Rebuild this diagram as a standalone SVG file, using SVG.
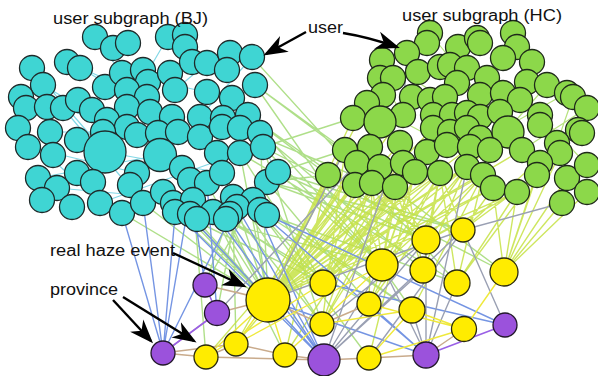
<svg xmlns="http://www.w3.org/2000/svg" width="598" height="376" viewBox="0 0 598 376">
<style>
.bj circle{fill:#3fd5d3;stroke:#1f2a2a;stroke-width:1.3}
.hc circle{fill:#8cd84a;stroke:#1f2a1a;stroke-width:1.3}
.ev circle{fill:#ffec00;stroke:#2a2a10;stroke-width:1.3}
.pr circle{fill:#9b52dc;stroke:#22182a;stroke-width:1.3}
.e{fill:none;stroke-width:1.4}
.yg{stroke:#c6e244;opacity:.85}
.lg{stroke:#a6dc7c;opacity:.9}
.bl{stroke:#7595e3}
.gr{stroke:#9aa0b3}
.tn{stroke:#c9ab8c;stroke-width:1.5}
.pu{stroke:#9a60e6;stroke-width:1.6}
.yl{stroke:#efe93c;stroke-width:1.4}
.cy{stroke:#84d8e6;stroke-width:1.2}
.hg{stroke:#b7e27f;stroke-width:1.2}
.arr{fill:none;stroke:#000;stroke-width:2.4}
text{font-family:"Liberation Sans",Arial,Helvetica,sans-serif;font-size:16px;fill:#111}
</style>
<defs>
<marker id="ah" markerUnits="userSpaceOnUse" markerWidth="26" markerHeight="20" refX="21" refY="9" orient="auto" viewBox="0 0 26 18">
<path d="M0,0 L24,9 L0,18 L7,9 z" fill="#000"/>
</marker>
</defs>
<rect width="598" height="376" fill="#fff"/>
<g id="connectors">
<path class="e cy" d="M32,68L105,152 M43,85L160,155 M67,62L147,97 M122,73L232,98 M80,68L200,137 M21,97L127,127 M50,132L178,132 M28,147L137,173 M57,188L193,200 M38,178L160,155 M105,152L222,173 M100,203L240,153 M168,37L127,107 M207,63L175,90 M252,57L200,117 M255,85L160,155 M232,98L278,172 M95,37L150,112 M63,108L143,203 M18,128L100,203"/>
<path class="e hg" d="M382,60L467,113 M407,53L433,128 M430,33L508,132 M513,33L467,128 M532,62L480,138 M547,85L490,150 M367,103L447,145 M353,118L400,143 M587,108L522,150 M573,97L557,143 M380,78L403,115 M540,115L587,165 M433,115L540,163 M458,47L380,122 M503,58L427,152 M567,93L470,147"/>
<path class="e lg" d="M252,57L457,283 M255,85L412,310 M260,133L423,270 M263,147L382,265 M278,172L426,240 M267,182L369,304 M267,215L412,310 M260,212L323,283 M253,200L268,300 M237,207L268,300 M228,218L268,300 M213,212L268,300 M195,218L268,300 M187,213L268,300 M173,210L268,300 M163,192L268,300 M240,153L457,283 M232,98L382,265 M222,173L322,324 M207,183L268,300 M233,212L236,344 M195,218L206,357 M278,172L463,230 M263,147L504,272 M267,182L426,240 M240,153L323,283 M278,172L345,150 M263,147L353,118 M267,182L328,175 M173,210L323,283 M187,213L382,265 M143,203L268,300 M122,213L268,300 M248,115L426,240 M255,85L345,150 M228,218L323,283 M213,212L369,304 M260,212L457,283 M255,85L504,272 M248,115L328,175 M240,128L372,183 M253,200L205,285 M237,207L217,313 M213,212L285,355 M260,212L369,358 M253,200L412,310 M233,212L322,324 M228,218L205,285 M278,172L382,265 M267,182L463,230 M240,153L268,300 M260,133L268,300 M263,147L322,324"/>
<path class="e yg" d="M328,175L268,300 M345,150L268,300 M355,185L268,300 M372,183L268,300 M380,167L268,300 M395,187L268,300 M403,163L268,300 M415,172L268,300 M440,173L268,300 M427,152L268,300 M467,167L268,300 M447,145L268,300 M483,175L268,300 M493,188L268,300 M370,147L268,300 M400,143L268,300 M357,163L268,300 M517,192L268,300 M470,147L268,300 M380,122L268,300 M433,128L268,300 M490,150L268,300 M353,118L268,300 M367,103L268,300 M403,115L268,300 M522,150L268,300 M372,183L323,283 M395,187L323,283 M415,172L323,283 M440,173L323,283 M467,167L323,283 M493,188L323,283 M403,163L323,283 M355,185L323,283 M427,152L323,283 M355,185L382,265 M415,172L382,265 M440,173L382,265 M372,183L382,265 M467,167L382,265 M395,187L382,265 M483,175L382,265 M403,163L382,265 M395,187L426,240 M372,183L426,240 M440,173L426,240 M483,175L426,240 M517,192L426,240 M357,163L426,240 M403,163L423,270 M440,173L423,270 M395,187L423,270 M467,167L423,270 M517,192L504,272 M537,175L504,272 M562,203L504,272 M493,188L504,272 M567,178L504,272 M587,192L504,272 M540,163L504,272 M415,172L369,304 M440,173L369,304 M372,183L369,304 M483,175L457,283 M517,192L457,283 M440,173L457,283 M537,175L457,283 M372,183L322,324 M395,187L322,324 M345,150L322,324 M372,183L236,344 M345,150L236,344 M415,172L369,358 M493,188L463,230 M537,175L463,230 M440,173L463,230 M328,175L285,355 M355,185L206,357 M395,187L285,355 M415,172L322,324 M467,167L369,304 M483,175L412,310 M380,167L323,283 M517,192L382,265 M560,153L504,272 M557,143L463,230"/>
<path class="e bl" d="M175,215L163,353 M187,213L163,353 M195,218L205,285 M213,212L324,360 M228,218L324,360 M237,207L324,360 M253,200L324,360 M260,212L426,355 M267,215L505,325 M207,183L217,313 M233,212L163,353 M323,283L505,325 M369,304L426,355 M268,300L426,355 M143,203L163,353 M187,213L324,360 M173,210L324,360 M122,213L160,342"/>
<path class="e gr" d="M463,230L324,360 M463,230L505,325 M463,230L268,300 M426,240L426,355 M426,240L324,360 M382,265L324,360 M423,270L324,360 M457,283L426,355 M463,230L562,203 M322,324L426,240 M369,358L463,230 M400,143L324,360 M345,150L268,300 M467,167L426,355 M412,310L426,355 M382,265L426,355 M357,163L217,313 M407,53L403,115"/>
<path class="e tn" d="M163,353L206,357 M163,353L217,313 M206,357L236,344 M217,313L268,300 M205,285L268,300 M206,357L324,360 M324,360L369,358 M369,358L426,355 M426,355L464,329 M285,355L324,360 M236,344L285,355 M322,324L369,304 M322,324L268,300 M163,353L236,344"/>
<path class="e yl" d="M236,344L268,300 M206,357L268,300 M285,355L268,300 M369,358L464,329 M369,304L464,329 M322,324L412,310 M412,310L464,329 M464,329L504,272 M206,357L323,283 M285,355L382,265 M369,358L412,310 M236,344L382,265"/>
<path class="e pu" d="M426,355L505,325 M217,313L163,353 M205,285L217,313"/>
</g>
<g class="bj">
<g id="b1"><circle cx="95" cy="37" r="12.5"/></g>
<g id="b2"><circle cx="113" cy="48" r="12.5"/></g>
<g id="b3"><circle cx="128" cy="43" r="12.5"/></g>
<g id="b4"><circle cx="168" cy="37" r="12.5"/></g>
<g id="b5"><circle cx="185" cy="35" r="12.5"/></g>
<g id="b6"><circle cx="185" cy="47" r="12.5"/></g>
<g id="b7"><circle cx="67" cy="62" r="12.5"/></g>
<g id="b8"><circle cx="80" cy="68" r="12.5"/></g>
<g id="b9"><circle cx="32" cy="68" r="12.5"/></g>
<g id="b10"><circle cx="43" cy="85" r="12.5"/></g>
<g id="b11"><circle cx="21" cy="97" r="12.5"/></g>
<g id="b12"><circle cx="26" cy="108" r="12.5"/></g>
<g id="b13"><circle cx="47" cy="107" r="12.5"/></g>
<g id="b14"><circle cx="63" cy="108" r="12.5"/></g>
<g id="b15"><circle cx="78" cy="100" r="12.5"/></g>
<g id="b16"><circle cx="92" cy="110" r="12.5"/></g>
<g id="b17"><circle cx="105" cy="87" r="12.5"/></g>
<g id="b18"><circle cx="122" cy="73" r="12.5"/></g>
<g id="b19"><circle cx="143" cy="70" r="12.5"/></g>
<g id="b20"><circle cx="148" cy="82" r="12.5"/></g>
<g id="b21"><circle cx="170" cy="73" r="12.5"/></g>
<g id="b22"><circle cx="192" cy="62" r="12.5"/></g>
<g id="b23"><circle cx="207" cy="63" r="12.5"/></g>
<g id="b24"><circle cx="230" cy="53" r="12.5"/></g>
<g id="b25"><circle cx="252" cy="57" r="12.5"/></g>
<g id="b26"><circle cx="227" cy="70" r="12.5"/></g>
<g id="b27"><circle cx="255" cy="85" r="12.5"/></g>
<g id="b28"><circle cx="207" cy="92" r="12.5"/></g>
<g id="b29"><circle cx="232" cy="98" r="12.5"/></g>
<g id="b30"><circle cx="175" cy="90" r="12.5"/></g>
<g id="b31"><circle cx="127" cy="90" r="12.5"/></g>
<g id="b32"><circle cx="147" cy="97" r="12.5"/></g>
<g id="b33"><circle cx="127" cy="107" r="12.5"/></g>
<g id="b34"><circle cx="150" cy="112" r="12.5"/></g>
<g id="b35"><circle cx="172" cy="117" r="12.5"/></g>
<g id="b36"><circle cx="200" cy="117" r="12.5"/></g>
<g id="b37"><circle cx="223" cy="118" r="12.5"/></g>
<g id="b38"><circle cx="248" cy="115" r="12.5"/></g>
<g id="b39"><circle cx="107" cy="120" r="12.5"/></g>
<g id="b40"><circle cx="127" cy="127" r="12.5"/></g>
<g id="b41"><circle cx="18" cy="128" r="12.5"/></g>
<g id="b42"><circle cx="50" cy="132" r="12.5"/></g>
<g id="b43"><circle cx="77" cy="140" r="12.5"/></g>
<g id="b44"><circle cx="103" cy="132" r="12.5"/></g>
<g id="b47"><circle cx="28" cy="147" r="12.5"/></g>
<g id="b48"><circle cx="53" cy="155" r="12.5"/></g>
<g id="b49"><circle cx="137" cy="135" r="12.5"/></g>
<g id="b50"><circle cx="158" cy="133" r="12.5"/></g>
<g id="b51"><circle cx="178" cy="132" r="12.5"/></g>
<g id="b52"><circle cx="200" cy="137" r="12.5"/></g>
<g id="b53"><circle cx="222" cy="127" r="12.5"/></g>
<g id="b54"><circle cx="240" cy="128" r="12.5"/></g>
<g id="b55"><circle cx="260" cy="133" r="12.5"/></g>
<g id="b45"><circle cx="105" cy="152" r="21"/></g>
<g id="b46"><circle cx="160" cy="155" r="16.5"/></g>
<g id="b56"><circle cx="217" cy="153" r="12.5"/></g>
<g id="b57"><circle cx="240" cy="153" r="12.5"/></g>
<g id="b58"><circle cx="263" cy="147" r="12.5"/></g>
<g id="b59"><circle cx="38" cy="178" r="12.5"/></g>
<g id="b60"><circle cx="57" cy="188" r="12.5"/></g>
<g id="b61"><circle cx="77" cy="173" r="12.5"/></g>
<g id="b62"><circle cx="93" cy="182" r="12.5"/></g>
<g id="b63"><circle cx="42" cy="200" r="12.5"/></g>
<g id="b64"><circle cx="72" cy="207" r="12.5"/></g>
<g id="b65"><circle cx="100" cy="203" r="12.5"/></g>
<g id="b66"><circle cx="122" cy="213" r="12.5"/></g>
<g id="b67"><circle cx="137" cy="173" r="12.5"/></g>
<g id="b68"><circle cx="130" cy="185" r="12.5"/></g>
<g id="b69"><circle cx="143" cy="203" r="12.5"/></g>
<g id="b70"><circle cx="163" cy="192" r="12.5"/></g>
<g id="b71"><circle cx="182" cy="168" r="12.5"/></g>
<g id="b72"><circle cx="190" cy="180" r="12.5"/></g>
<g id="b75"><circle cx="207" cy="183" r="12.5"/></g>
<g id="b76"><circle cx="222" cy="173" r="12.5"/></g>
<g id="b80"><circle cx="267" cy="182" r="12.5"/></g>
<g id="b81"><circle cx="278" cy="172" r="12.5"/></g>
<g id="b73"><circle cx="173" cy="203" r="12.5"/></g>
<g id="b74"><circle cx="193" cy="200" r="12.5"/></g>
<g id="b77"><circle cx="233" cy="197" r="12.5"/></g>
<g id="b79"><circle cx="253" cy="200" r="12.5"/></g>
<g id="b85"><circle cx="175" cy="212" r="12.5"/></g>
<g id="b83"><circle cx="190" cy="214" r="12.5"/></g>
<g id="b78"><circle cx="213" cy="212" r="12.5"/></g>
<g id="b86"><circle cx="197" cy="219" r="12.5"/></g>
<g id="b88"><circle cx="237" cy="207" r="12.5"/></g>
<g id="b84"><circle cx="230" cy="214" r="12.5"/></g>
<g id="b87"><circle cx="226" cy="219" r="12.5"/></g>
<g id="b82"><circle cx="260" cy="210" r="12.5"/></g>
<g id="b89"><circle cx="267" cy="215" r="12.5"/></g>
</g>
<g class="hc">
<g id="h1"><circle cx="430" cy="33" r="12.5"/></g>
<g id="h2"><circle cx="427" cy="43" r="12.5"/></g>
<g id="h3"><circle cx="458" cy="47" r="12.5"/></g>
<g id="h4"><circle cx="477" cy="38" r="12.5"/></g>
<g id="h5"><circle cx="480" cy="43" r="12.5"/></g>
<g id="h6"><circle cx="513" cy="33" r="12.5"/></g>
<g id="h7"><circle cx="517" cy="47" r="12.5"/></g>
<g id="h8"><circle cx="503" cy="58" r="12.5"/></g>
<g id="h9"><circle cx="532" cy="62" r="12.5"/></g>
<g id="h10"><circle cx="407" cy="53" r="12.5"/></g>
<g id="h11"><circle cx="382" cy="60" r="12.5"/></g>
<g id="h12"><circle cx="380" cy="78" r="12.5"/></g>
<g id="h13"><circle cx="393" cy="78" r="12.5"/></g>
<g id="h14"><circle cx="418" cy="72" r="12.5"/></g>
<g id="h15"><circle cx="440" cy="67" r="12.5"/></g>
<g id="h16"><circle cx="450" cy="65" r="12.5"/></g>
<g id="h17"><circle cx="467" cy="68" r="12.5"/></g>
<g id="h18"><circle cx="487" cy="78" r="12.5"/></g>
<g id="h19"><circle cx="457" cy="83" r="12.5"/></g>
<g id="h20"><circle cx="383" cy="95" r="12.5"/></g>
<g id="h21"><circle cx="412" cy="97" r="12.5"/></g>
<g id="h22"><circle cx="430" cy="100" r="12.5"/></g>
<g id="h23"><circle cx="445" cy="97" r="12.5"/></g>
<g id="h24"><circle cx="480" cy="95" r="12.5"/></g>
<g id="h25"><circle cx="503" cy="93" r="12.5"/></g>
<g id="h26"><circle cx="527" cy="82" r="12.5"/></g>
<g id="h27"><circle cx="547" cy="85" r="12.5"/></g>
<g id="h28"><circle cx="567" cy="93" r="12.5"/></g>
<g id="h29"><circle cx="573" cy="97" r="12.5"/></g>
<g id="h30"><circle cx="587" cy="108" r="12.5"/></g>
<g id="h31"><circle cx="520" cy="100" r="12.5"/></g>
<g id="h32"><circle cx="367" cy="103" r="12.5"/></g>
<g id="h33"><circle cx="353" cy="118" r="12.5"/></g>
<g id="h35"><circle cx="403" cy="115" r="12.5"/></g>
<g id="h36"><circle cx="433" cy="115" r="12.5"/></g>
<g id="h37"><circle cx="452" cy="115" r="12.5"/></g>
<g id="h38"><circle cx="467" cy="113" r="12.5"/></g>
<g id="h39"><circle cx="480" cy="117" r="12.5"/></g>
<g id="h40"><circle cx="500" cy="112" r="12.5"/></g>
<g id="h41"><circle cx="540" cy="115" r="12.5"/></g>
<g id="h42"><circle cx="540" cy="125" r="12.5"/></g>
<g id="h34"><circle cx="380" cy="122" r="16"/></g>
<g id="h44"><circle cx="433" cy="128" r="12.5"/></g>
<g id="h45"><circle cx="450" cy="132" r="12.5"/></g>
<g id="h46"><circle cx="467" cy="128" r="12.5"/></g>
<g id="h47"><circle cx="480" cy="138" r="12.5"/></g>
<g id="h43"><circle cx="508" cy="132" r="16"/></g>
<g id="h48"><circle cx="578" cy="130" r="12.5"/></g>
<g id="h49"><circle cx="582" cy="133" r="12.5"/></g>
<g id="h50"><circle cx="345" cy="150" r="12.5"/></g>
<g id="h51"><circle cx="370" cy="147" r="12.5"/></g>
<g id="h52"><circle cx="400" cy="143" r="12.5"/></g>
<g id="h53"><circle cx="427" cy="152" r="12.5"/></g>
<g id="h54"><circle cx="447" cy="145" r="12.5"/></g>
<g id="h55"><circle cx="470" cy="147" r="12.5"/></g>
<g id="h56"><circle cx="490" cy="150" r="12.5"/></g>
<g id="h57"><circle cx="522" cy="150" r="12.5"/></g>
<g id="h58"><circle cx="557" cy="143" r="12.5"/></g>
<g id="h59"><circle cx="560" cy="153" r="12.5"/></g>
<g id="h62"><circle cx="357" cy="163" r="12.5"/></g>
<g id="h60"><circle cx="380" cy="167" r="12.5"/></g>
<g id="h61"><circle cx="403" cy="163" r="12.5"/></g>
<g id="h63"><circle cx="328" cy="175" r="12.5"/></g>
<g id="h64"><circle cx="355" cy="185" r="12.5"/></g>
<g id="h65"><circle cx="372" cy="183" r="12.5"/></g>
<g id="h66"><circle cx="395" cy="187" r="12.5"/></g>
<g id="h67"><circle cx="415" cy="172" r="12.5"/></g>
<g id="h68"><circle cx="440" cy="173" r="12.5"/></g>
<g id="h69"><circle cx="467" cy="167" r="12.5"/></g>
<g id="h70"><circle cx="483" cy="175" r="12.5"/></g>
<g id="h71"><circle cx="493" cy="188" r="12.5"/></g>
<g id="h72"><circle cx="517" cy="192" r="12.5"/></g>
<g id="h74"><circle cx="540" cy="163" r="12.5"/></g>
<g id="h73"><circle cx="537" cy="175" r="12.5"/></g>
<g id="h75"><circle cx="567" cy="178" r="12.5"/></g>
<g id="h76"><circle cx="587" cy="165" r="12.5"/></g>
<g id="h77"><circle cx="587" cy="192" r="12.5"/></g>
<g id="h78"><circle cx="562" cy="203" r="12.5"/></g>
</g>
<g class="ev">
<g id="y0"><circle cx="268" cy="300" r="22"/></g>
<g id="y1"><circle cx="426" cy="240" r="14"/></g>
<g id="y2"><circle cx="463" cy="230" r="12"/></g>
<g id="y3"><circle cx="382" cy="265" r="16"/></g>
<g id="y4"><circle cx="423" cy="270" r="13"/></g>
<g id="y5"><circle cx="323" cy="283" r="13"/></g>
<g id="y6"><circle cx="457" cy="283" r="13"/></g>
<g id="y7"><circle cx="504" cy="272" r="14"/></g>
<g id="y8"><circle cx="369" cy="304" r="12"/></g>
<g id="y9"><circle cx="412" cy="310" r="13"/></g>
<g id="y10"><circle cx="322" cy="324" r="12"/></g>
<g id="y11"><circle cx="464" cy="329" r="12.5"/></g>
<g id="y12"><circle cx="369" cy="358" r="12"/></g>
<g id="y13"><circle cx="206" cy="357" r="12"/></g>
<g id="y14"><circle cx="236" cy="344" r="12"/></g>
<g id="y15"><circle cx="285" cy="355" r="12"/></g>
</g>
<g class="pr">
<g id="p1"><circle cx="205" cy="285" r="12"/></g>
<g id="p2"><circle cx="217" cy="313" r="12.5"/></g>
<g id="p3"><circle cx="163" cy="353" r="12"/></g>
<g id="p4"><circle cx="324" cy="360" r="16"/></g>
<g id="p5"><circle cx="426" cy="355" r="13"/></g>
<g id="p6"><circle cx="505" cy="325" r="12"/></g>
</g>
<g id="labels">
<text x="53" y="24" textLength="155" lengthAdjust="spacingAndGlyphs">user subgraph (BJ)</text>
<text x="402" y="21" textLength="160" lengthAdjust="spacingAndGlyphs">user subgraph (HC)</text>
<text x="308" y="33" textLength="35" lengthAdjust="spacingAndGlyphs">user</text>
<text x="50" y="256" textLength="125" lengthAdjust="spacingAndGlyphs">real haze event</text>
<text x="50" y="295" textLength="68" lengthAdjust="spacingAndGlyphs">province</text>
</g>
<g id="arrows">
<path class="arr" d="M306,32 L266,54" marker-end="url(#ah)"/>
<path class="arr" d="M343,33 Q368,37 397,47" marker-end="url(#ah)"/>
<path class="arr" d="M173,253 L244,286" marker-end="url(#ah)"/>
<path class="arr" d="M113,300 L151,341" marker-end="url(#ah)"/>
<path class="arr" d="M123,297 L194,341" marker-end="url(#ah)"/>
</g>
</svg>
